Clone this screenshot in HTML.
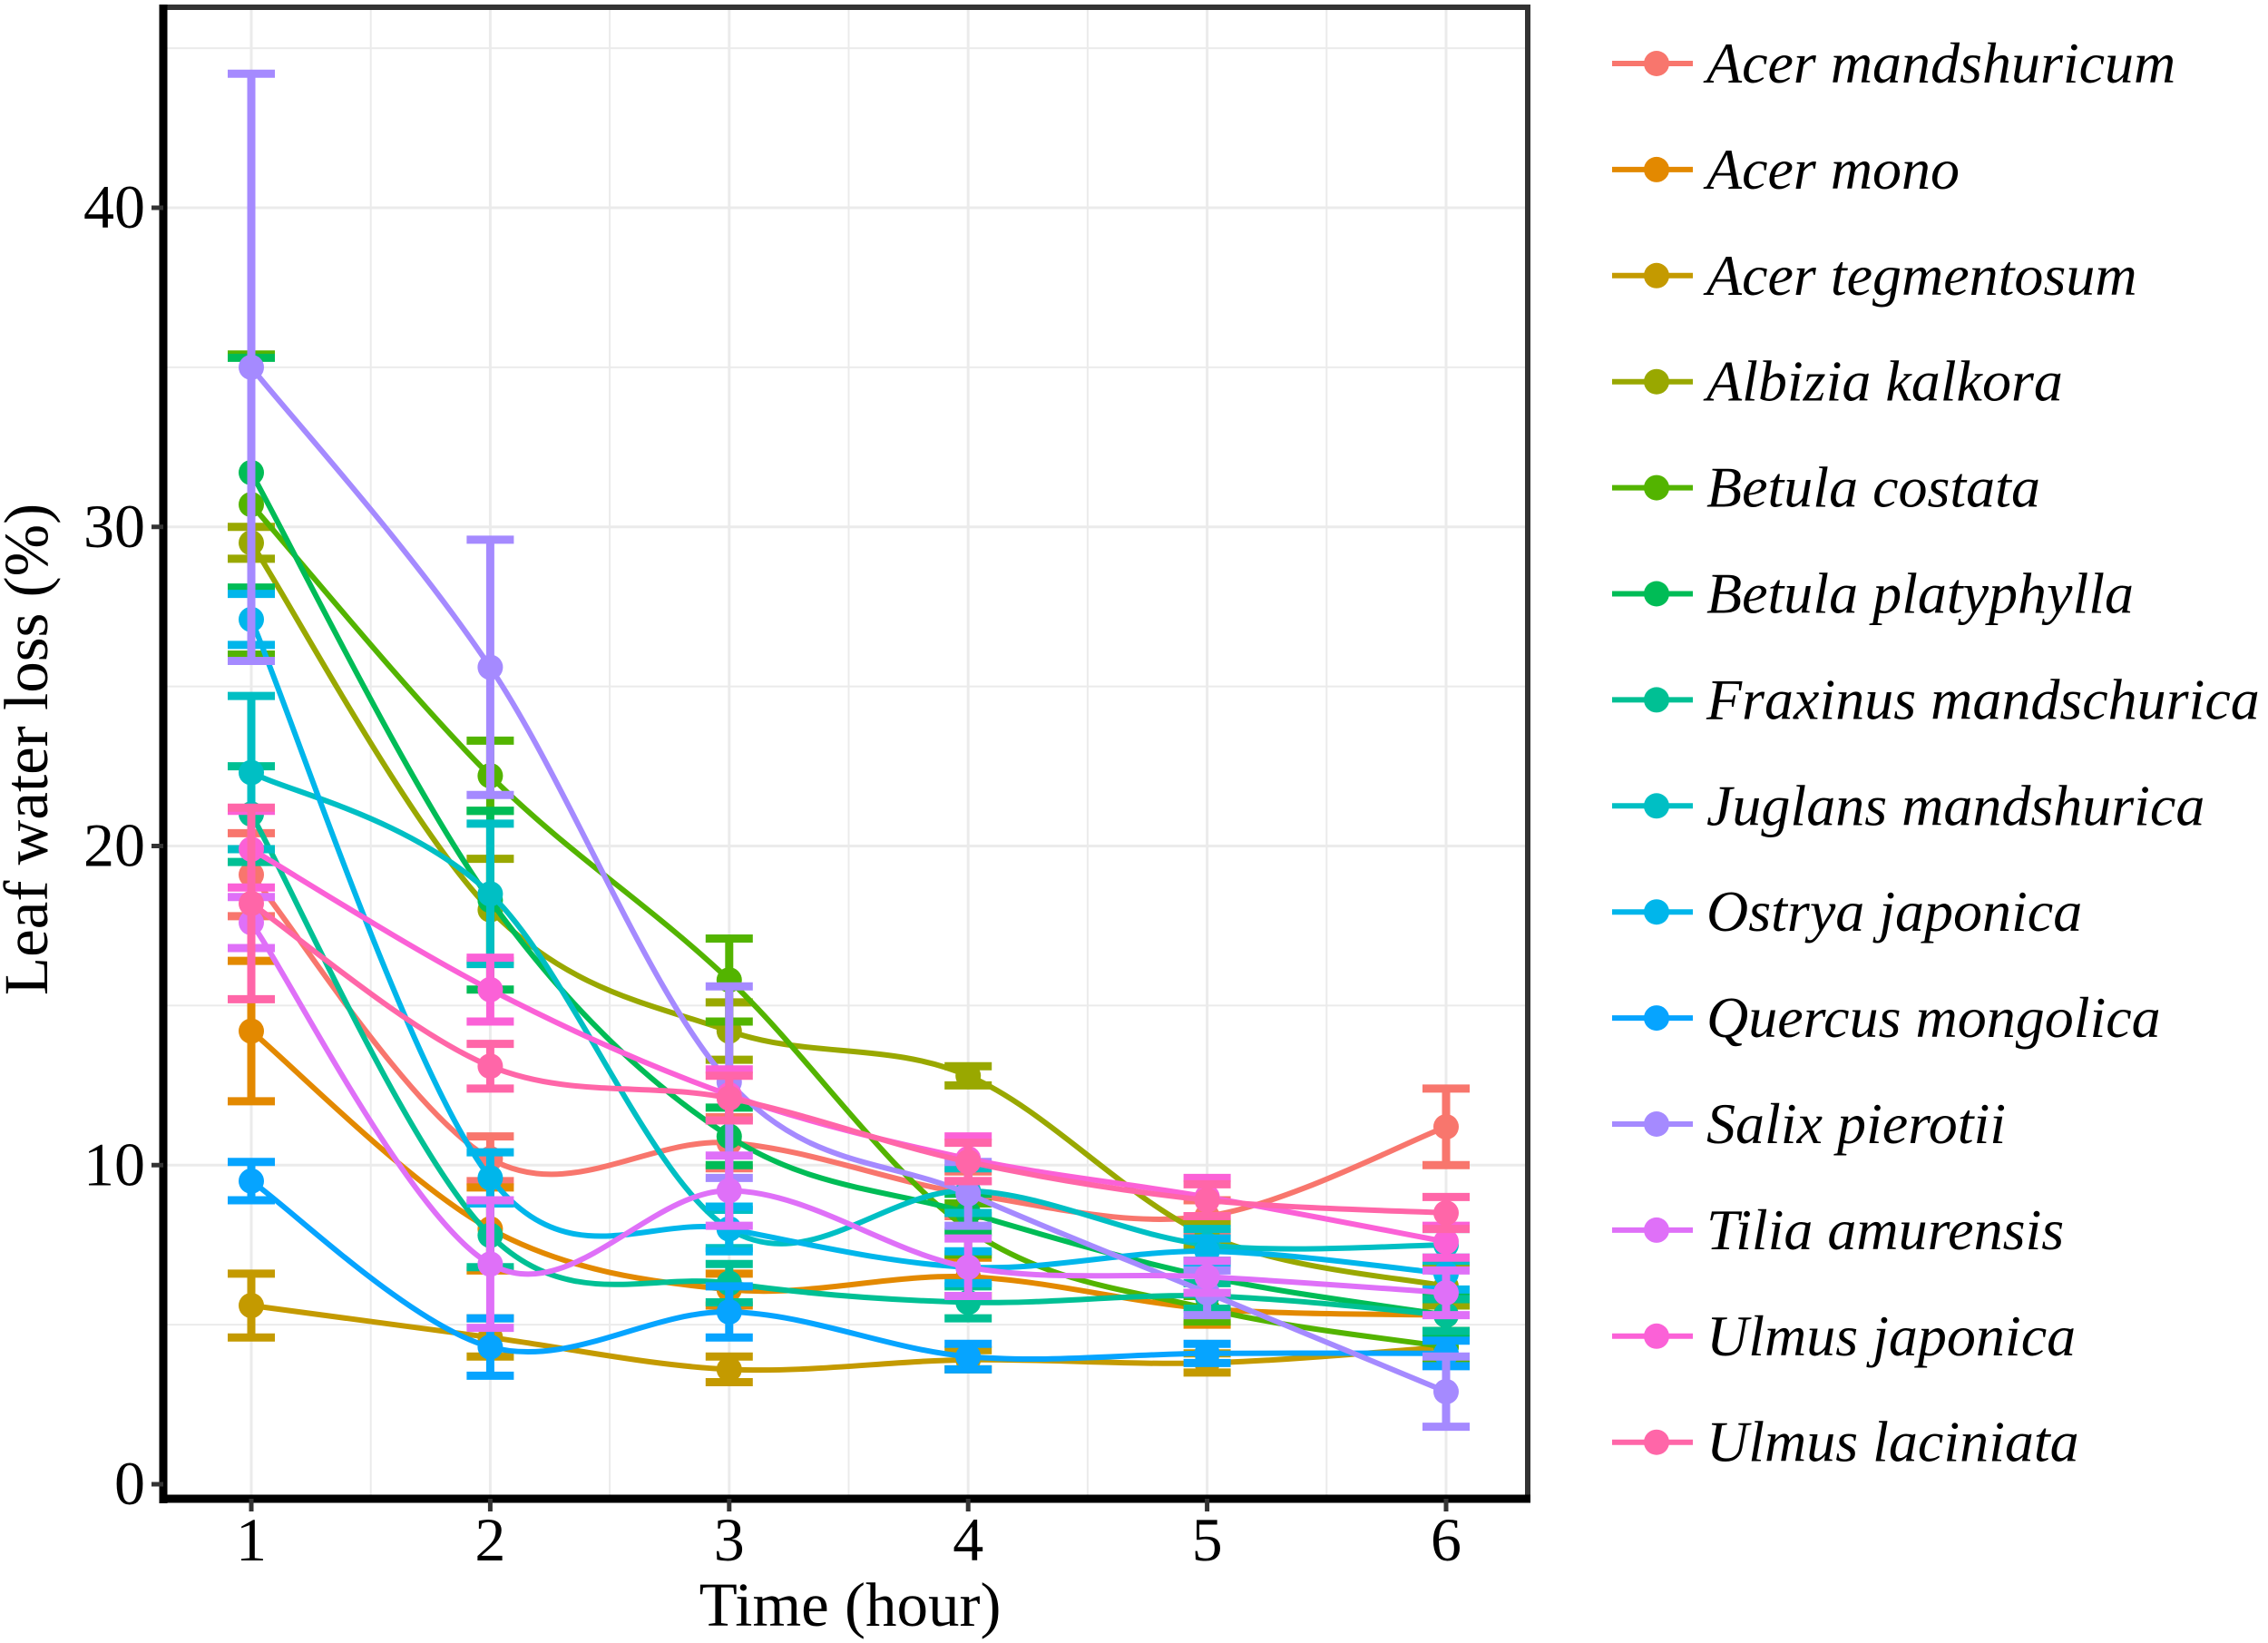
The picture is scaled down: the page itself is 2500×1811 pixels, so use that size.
<!DOCTYPE html>
<html><head><meta charset="utf-8"><style>
html,body{margin:0;padding:0;background:#fff;}
svg{display:block;font-family:"Liberation Serif",serif;}
</style></head><body>
<svg id="chart" width="2500" height="1811" viewBox="0 0 2500 1811">
<g id="grid"></g>
<g id="series"></g>
<g id="axes"></g>
<g id="legend"></g>
<text x="937" y="1792" font-size="69" text-anchor="middle">Time (hour)</text>
<text transform="translate(52,826) rotate(-90)" font-size="69" text-anchor="middle">Leaf water loss (%)</text>
</svg>
<script>
const times = [1,2,3,4,5,6];
const speciesNames = ["Acer mandshuricum","Acer mono","Acer tegmentosum","Albizia kalkora","Betula costata","Betula platyphylla","Fraxinus mandschurica","Juglans mandshurica","Ostrya japonica","Quercus mongolica","Salix pierotii","Tilia amurensis","Ulmus japonica","Ulmus laciniata"];
const colors = ["#F8766D","#E38900","#C49A00","#99A800","#53B400","#00BC56","#00C094","#00BFC4","#00B6EB","#06A4FF","#A58AFF","#DF70F8","#FB61D7","#FF66A8"];
const means = [
 [19.1,10.2,10.7,9.1,8.4,11.2],
 [14.2,8.0,6.1,6.5,5.5,5.3],
 [5.6,4.6,3.6,3.9,3.8,4.3],
 [29.5,18.0,14.2,12.8,7.8,6.2],
 [30.7,22.2,15.8,8.0,5.5,4.3],
 [31.7,18.3,10.9,8.5,6.5,5.3],
 [21.0,7.8,6.3,5.7,5.9,5.3],
 [22.3,18.5,8.0,9.2,7.5,7.5],
 [27.1,9.6,8.0,6.8,7.3,6.6],
 [9.5,4.3,5.4,4.0,4.1,4.1],
 [35.0,25.6,12.6,9.1,6.0,2.9],
 [17.6,6.9,9.2,6.8,6.5,6.0],
 [19.9,15.5,12.2,10.2,9.0,7.6],
 [18.2,13.1,12.1,10.1,8.9,8.5]
];
const errors = [
 [1.3,0.7,0.8,0.7,0.5,1.2],
 [2.2,1.3,0.5,0.6,0.5,0.6],
 [1.0,0.6,0.4,0.3,0.3,0.5],
 [0.5,1.6,0.9,0.3,0.4,0.6],
 [4.7,1.1,1.3,0.8,0.4,0.5],
 [3.6,2.8,0.9,0.6,0.5,0.6],
 [1.5,1.0,0.6,0.5,0.4,0.5],
 [2.4,2.2,0.6,0.7,0.5,0.5],
 [0.8,0.8,0.7,0.5,0.4,0.5],
 [0.6,0.9,0.8,0.4,0.3,0.4],
 [9.2,4.0,3.0,1.0,0.7,1.1],
 [0.8,2.0,1.1,0.9,0.5,0.7],
 [1.2,1.0,0.8,0.7,0.6,0.5],
 [3.0,0.7,0.7,0.6,0.5,0.5]
];
const yTicks = [0,10,20,30,40];
const xTicks = [1,2,3,4,5,6];

const L=180,R=1687,T=5,B=1652;
const xs = t => 277 + (t-1)*(1594-277)/5;
const ys = v => 1636 - v*35.175;
const NS="http://www.w3.org/2000/svg";
function mk(tag,attrs,parent){const e=document.createElementNS(NS,tag);for(const k in attrs)e.setAttribute(k,attrs[k]);parent.appendChild(e);return e;}

const grid=document.getElementById('grid');
mk('rect',{x:L,y:T,width:R-L,height:B-T,fill:'#fff'},grid);
for(let v=5;v<=45;v+=5){const l=mk('line',{x1:L,x2:R,y1:ys(v),y2:ys(v),stroke:'#ebebeb','stroke-width':v%10?2:3},grid);

}
for(let t=0.5;t<=6.5;t+=0.5){const x=xs(t);if(x<=L||x>=R)continue;const l=mk('line',{x1:x,x2:x,y1:T,y2:B,stroke:'#ebebeb','stroke-width':Number.isInteger(t)?3:2},grid);

}

function smoothPath(pts){
 let d=`M${pts[0][0]},${pts[0][1]}`;
 for(let i=0;i<pts.length-1;i++){
  const p0=pts[Math.max(i-1,0)],p1=pts[i],p2=pts[i+1],p3=pts[Math.min(i+2,pts.length-1)];
  const c1=[p1[0]+(p2[0]-p0[0])/6,p1[1]+(p2[1]-p0[1])/6];
  const c2=[p2[0]-(p3[0]-p1[0])/6,p2[1]-(p3[1]-p1[1])/6];
  d+=` C${c1[0]},${c1[1]} ${c2[0]},${c2[1]} ${p2[0]},${p2[1]}`;
 }
 return d;
}
const sg=document.getElementById('series');
means.forEach((m,i)=>{
 const g=mk('g',{},sg);
 
 
 const pts=m.map((v,j)=>[xs(times[j]),ys(v)]);
 const p=mk('path',{d:smoothPath(pts),fill:'none',stroke:colors[i],'stroke-width':6},g);
 
 
 m.forEach((v,j)=>{
  const x=xs(times[j]),e=errors[i][j];
  const eb=mk('path',{d:`M${x},${ys(v-e)}V${ys(v+e)}M${x-26},${ys(v-e)}H${x+26}M${x-26},${ys(v+e)}H${x+26}`,stroke:colors[i],'stroke-width':9,fill:'none'},g);
  
  
  const c=mk('circle',{cx:x,cy:ys(v),r:14,fill:colors[i]},g);
  
  
 });
});

const ax=document.getElementById('axes');
mk('line',{x1:L,x2:R,y1:T+3,y2:T+3,stroke:'#333','stroke-width':6},ax);
mk('line',{x1:R-3,x2:R-3,y1:T,y2:B,stroke:'#333','stroke-width':6},ax);
mk('line',{x1:L,x2:L,y1:T,y2:B+5,stroke:'#000','stroke-width':9},ax);
mk('line',{x1:L-4,x2:R,y1:B,y2:B,stroke:'#000','stroke-width':9},ax);
yTicks.forEach(v=>{
 mk('line',{x1:L-13,x2:L,y1:ys(v),y2:ys(v),stroke:'#333','stroke-width':5},ax);
 const t=mk('text',{x:L-20,y:ys(v)+22,'font-size':68,'text-anchor':'end'},ax);
 t.textContent=v;
 
 
});
xTicks.forEach(v=>{
 mk('line',{x1:xs(v),x2:xs(v),y1:B,y2:B+14,stroke:'#333','stroke-width':5},ax);
 const t=mk('text',{x:xs(v),y:1720,'font-size':68,'text-anchor':'middle'},ax);
 t.textContent=v;
 
 
});

const lg=document.getElementById('legend');
speciesNames.forEach((n,i)=>{
 const y=70+i*116.9;
 const g=mk('g',{},lg);
 
 
 mk('line',{x1:1777,x2:1866,y1:y,y2:y,stroke:colors[i],'stroke-width':6},g);
 mk('circle',{cx:1826,cy:y,r:14,fill:colors[i]},g);
 const t=mk('text',{x:1881,y:y+21,'font-size':64,'font-style':'italic'},g);
 t.textContent=n;
});
</script>
</body></html>
